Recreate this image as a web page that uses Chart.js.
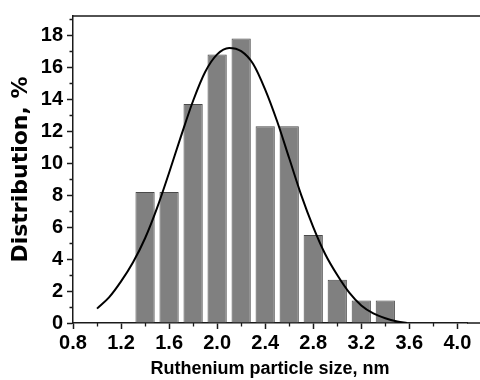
<!DOCTYPE html>
<html>
<head>
<meta charset="utf-8">
<script src="https://cdn.jsdelivr.net/npm/chart.js@4/dist/chart.umd.min.js"></script>
<style>
  html, body { margin: 0; padding: 0; background: #fff; overflow: hidden; }
  #c { display: block; }
</style>
</head>
<body>
<canvas id="c" width="480" height="380"></canvas>
<script>
// ---- data ----
const binCenters   = [1.4, 1.6, 1.8, 2.0, 2.2, 2.4, 2.6, 2.8, 3.0, 3.2, 3.4];
const distribution = [8.2, 8.2, 13.7, 16.8, 17.8, 12.3, 12.3, 5.5, 2.7, 1.4, 1.4];

const fitX = [1.0, 1.1, 1.2, 1.3, 1.4, 1.5, 1.6, 1.7, 1.8, 1.9, 2.0, 2.1, 2.2, 2.3,
              2.4, 2.5, 2.6, 2.7, 2.8, 2.9, 3.0, 3.1, 3.2, 3.3, 3.4, 3.5, 3.58];
const fitY = [0.9, 1.6, 2.6, 3.8, 5.3, 7.2, 9.4, 11.7, 13.9, 15.7, 16.8, 17.2, 17.0, 16.2,
              14.6, 12.6, 10.3, 8.0, 6.0, 4.3, 3.0, 1.9, 1.1, 0.6, 0.3, 0.1, 0.0];

const xTicks      = [0.8, 1.2, 1.6, 2.0, 2.4, 2.8, 3.2, 3.6, 4.0];
const xTickLabels = ['0.8', '1.2', '1.6', '2.0', '2.4', '2.8', '3.2', '3.6', '4.0'];
const xMinorTicks = [1.0, 1.4, 1.8, 2.2, 2.6, 3.0, 3.4, 3.8];
const yTicks      = [0, 2, 4, 6, 8, 10, 12, 14, 16, 18];
const yTickLabels = ['0', '2', '4', '6', '8', '10', '12', '14', '16', '18'];
const yMinorTicks = [1, 3, 5, 7, 9, 11, 13, 15, 17, 19];

const xTitle = 'Ruthenium particle size, nm';
const yTitle = 'Distribution, %';

// ---- chart ----
const FONT = '"Liberation Sans", Arial, Helvetica, sans-serif';
const WIDE_FONT = '"DejaVu Sans", Verdana, sans-serif';
const AXIS = '#1a1a1a';

const framePlugin = {
  id: 'frame',
  afterDraw(chart) {
    const ctx = chart.ctx;
    const xs = chart.scales.x, ys = chart.scales.y;
    const area = chart.chartArea;
    ctx.save();
    ctx.strokeStyle = AXIS;
    ctx.lineWidth = 1.5;
    ctx.beginPath();
    ctx.moveTo(area.left, area.top);
    ctx.lineTo(chart.width, area.top);
    ctx.moveTo(area.right, area.bottom);
    ctx.lineTo(chart.width, area.bottom);
    ctx.stroke();
    ctx.lineWidth = 1.3;
    ctx.beginPath();
    xMinorTicks.forEach(v => {
      const px = Math.round(xs.getPixelForValue(v)) + 0.5;
      ctx.moveTo(px, area.bottom);
      ctx.lineTo(px, area.bottom + 3.5);
    });
    yMinorTicks.forEach(v => {
      const py = Math.round(ys.getPixelForValue(v)) + 0.5;
      ctx.moveTo(area.left, py);
      ctx.lineTo(area.left - 3.5, py);
    });
    ctx.stroke();
    ctx.restore();
  }
};

new Chart(document.getElementById('c'), {
  type: 'bar',
  data: {
    datasets: [
      {
        type: 'line',
        data: fitX.map((x, i) => ({ x: x, y: fitY[i] })),
        borderColor: '#000',
        borderWidth: 2,
        pointRadius: 0,
        fill: false,
        cubicInterpolationMode: 'monotone',
        order: 0
      },
      {
        type: 'bar',
        data: binCenters.map((x, i) => ({ x: x, y: distribution[i] })),
        backgroundColor: '#808080',
        borderColor: '#4a4a4a',
        borderWidth: 1,
        barPercentage: 0.8,
        categoryPercentage: 1.0,
        order: 1
      }
    ]
  },
  options: {
    responsive: false,
    devicePixelRatio: 1,
    animation: false,
    layout: { padding: { top: 15, right: 13, left: 0, bottom: 0 } },
    plugins: { legend: { display: false }, tooltip: { enabled: false } },
    scales: {
      x: {
        type: 'linear',
        min: 0.8,
        max: 4.08,
        offset: false,
        afterBuildTicks: s => { s.ticks = xTicks.map(v => ({ value: v })); },
        afterFit: s => { s.height = 57; },
        grid: { display: true, drawOnChartArea: false, drawTicks: true, tickLength: 6,
                tickWidth: 1.5, tickColor: AXIS, offset: false },
        border: { display: true, color: AXIS, width: 1.5 },
        ticks: {
          callback: (v, i) => xTickLabels[i],
          color: '#000', padding: 2, maxRotation: 0, autoSkip: false,
          font: { family: FONT, size: 20, weight: 'bold' }
        },
        title: {
          display: true, text: xTitle, color: '#000',
          padding: { top: 0, bottom: 0 },
          font: { family: FONT, size: 18, weight: 'bold' }
        }
      },
      y: {
        min: 0,
        max: 19.2,
        afterBuildTicks: s => { s.ticks = yTicks.map(v => ({ value: v })); },
        afterFit: s => { s.width = 73; },
        grid: { display: true, drawOnChartArea: false, drawTicks: true, tickLength: 6,
                tickWidth: 1.5, tickColor: AXIS },
        border: { display: true, color: AXIS, width: 1.5 },
        ticks: {
          callback: (v, i) => yTickLabels[i],
          color: '#000', padding: 4, autoSkip: false,
          font: { family: FONT, size: 20, weight: 'bold' }
        },
        title: {
          display: true, text: yTitle, color: '#000',
          padding: { top: 8, bottom: 0 },
          font: { family: WIDE_FONT, size: 22, weight: 'bold' }
        }
      }
    }
  },
  plugins: [framePlugin]
});
</script>
</body>
</html>
